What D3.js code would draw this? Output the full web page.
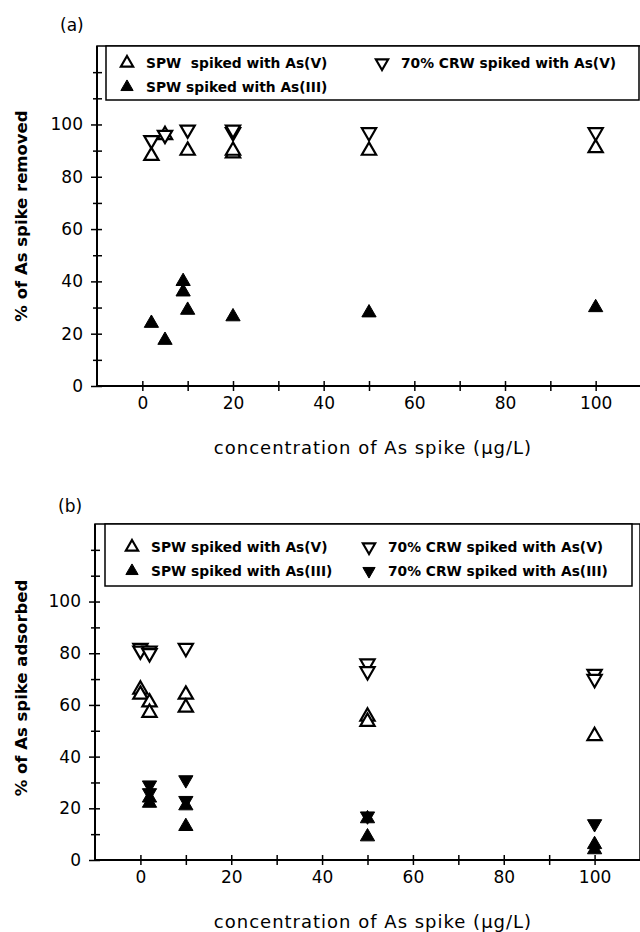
<!DOCTYPE html>
<html>
<head>
<meta charset="utf-8">
<script src="https://cdn.jsdelivr.net/npm/d3@7"></script>
<style>
  body { margin: 0; background: #fff; }
  svg { display: block; }
  text { font-family: "DejaVu Sans", sans-serif; fill: #000; }
</style>
</head>
<body>
<svg id="chart" width="640" height="932"></svg>
<script>
// tick values shared by both panels
var xTickValues = d3.range(0, 101, 10),
    xTickLabels = [0, 20, 40, 60, 80, 100],
    yTickValues = d3.range(0, 121, 10),
    yTickLabels = [0, 20, 40, 60, 80, 100];

// (a) % of As spike removed, [concentration, %]
var removedSpwV   = [[2, 88], [5, 96], [10, 90], [20, 89], [20, 90], [50, 90], [100, 91]];
var removedCrwV   = [[2, 94], [5, 96], [10, 98], [20, 97], [20, 98], [50, 97], [100, 97]];
var removedSpwIII = [[2, 24], [5, 17.5], [9, 40], [9, 36], [10, 29], [20, 26.5], [50, 28], [100, 30]];

// (b) % of As spike adsorbed, [concentration, %]
var adsorbedSpwV   = [[0, 66], [0, 64], [2, 61], [2, 57], [10, 64], [10, 59], [50, 55.5], [50, 53.5], [100, 48]];
var adsorbedCrwV   = [[0, 82], [0, 81], [2, 81], [2, 80], [10, 82], [50, 76], [50, 73], [100, 72], [100, 70]];
var adsorbedSpwIII = [[2, 22], [2, 24], [10, 21], [10, 13], [50, 16], [50, 9], [100, 6], [100, 4]];
var adsorbedCrwIII = [[2, 29], [2, 26], [10, 31], [10, 23], [50, 17], [100, 14]];

var svg = d3.select("#chart");

// triangle marker: up or down, open or filled
function marker(g, kind, size) {
  var p = g.append("path")
      .attr("d", d3.symbol().type(d3.symbolTriangle).size(size)())
      .attr("stroke", "#000")
      .attr("stroke-width", kind.open ? 2.2 : 1)
      .attr("stroke-linejoin", "miter")
      .attr("fill", kind.open ? "#fff" : "#000");
  if (kind.down) p.attr("transform", "rotate(180)");
  return p;
}

var openUp = {open: true, down: false},
    openDown = {open: true, down: true},
    fillUp = {open: false, down: false},
    fillDown = {open: false, down: true};

function drawPanel(opt) {
  var x = d3.scaleLinear().domain([-10, 110]).range(opt.xRange),
      y = d3.scaleLinear().domain([0, 130]).range(opt.yRange),
      g = svg.append("g");

  // plot frame
  g.append("rect")
      .attr("x", x(-10)).attr("y", y(130))
      .attr("width", x(110) - x(-10)).attr("height", y(0) - y(130))
      .attr("fill", "none").attr("stroke", "#000").attr("stroke-width", 1.5);

  // legend box
  g.append("rect")
      .attr("x", opt.legend.x0).attr("y", y(130))
      .attr("width", opt.legend.x1 - opt.legend.x0).attr("height", opt.legend.y1 - y(130))
      .attr("fill", "#fff").attr("stroke", "#000").attr("stroke-width", 1.5);

  var lg = g.selectAll(".legend")
      .data(opt.legend.items)
      .enter().append("g")
        .attr("class", "legend")
        .attr("transform", function(d) {
          return "translate(" + opt.legend.cols[d.col] + "," + opt.legend.rows[d.row] + ")";
        });
  lg.each(function(d) { marker(d3.select(this), d.kind, 65); });
  lg.append("text")
      .attr("x", opt.legend.gap)
      .attr("dy", "0.36em")
      .style("font-size", "13.8px")
      .style("font-weight", "bold")
      .style("white-space", "pre")
      .text(function(d) { return d.label; });

  // data
  opt.series.forEach(function(s) {
    g.append("g").selectAll("g")
      .data(s.data)
      .enter().append("g")
        .attr("transform", function(d) { return "translate(" + x(d[0]) + "," + y(d[1]) + ")"; })
        .each(function() { marker(d3.select(this), s.kind, 88); });
  });

  // x axis
  var xAxis = g.append("g")
      .attr("transform", "translate(0," + y(0) + ")")
      .call(d3.axisBottom(x).tickValues(xTickValues).tickSizeInner(5).tickSizeOuter(0).tickPadding(6)
        .tickFormat(function(d) { return xTickLabels.indexOf(d) >= 0 ? d : ""; }));
  xAxis.select(".domain").attr("stroke-width", 2).attr("d", "M" + x(-10) + ",0H" + x(110));
  xAxis.selectAll(".tick line").attr("y1", -5).attr("stroke-width", 1.5);
  xAxis.selectAll("text").style("font-size", "17px").style("font-family", "DejaVu Sans");

  // y axis
  var yAxis = g.append("g")
      .attr("transform", "translate(" + x(-10) + ",0)")
      .call(d3.axisLeft(y).tickValues(yTickValues).tickSizeInner(6).tickSizeOuter(0).tickPadding(8)
        .tickFormat(function(d) { return yTickLabels.indexOf(d) >= 0 ? d : ""; }));
  yAxis.select(".domain").attr("stroke-width", 2).attr("d", "M0," + y(0) + "V" + y(130));
  yAxis.selectAll(".tick line")
      .attr("x1", 5)
      .attr("x2", function(d) { return yTickLabels.indexOf(d) >= 0 ? -6 : -4; })
      .attr("stroke-width", 1.5);
  yAxis.selectAll("text").style("font-size", "17px").style("font-family", "DejaVu Sans");

  // titles
  g.append("text")
      .attr("x", opt.tag[0]).attr("y", opt.tag[1])
      .attr("dy", "0.36em")
      .style("font-size", "17px")
      .text(opt.tagText);

  g.append("text")
      .attr("transform", "translate(" + opt.yTitle[0] + "," + opt.yTitle[1] + ") rotate(-90)")
      .attr("text-anchor", "middle")
      .attr("dy", "0.36em")
      .style("font-size", "16.5px")
      .style("font-weight", "bold")
      .text(opt.yTitleText);

  g.append("text")
      .attr("x", opt.xTitle[0]).attr("y", opt.xTitle[1])
      .attr("text-anchor", "middle")
      .attr("dy", "0.36em")
      .style("font-size", "18px")
      .style("letter-spacing", "1px")
      .text("concentration of As spike (\u03bcg/L)");
}

drawPanel({
  xRange: [97, 641],
  yRange: [386, 46],
  tag: [60, 25], tagText: "(a)",
  yTitle: [21, 216], yTitleText: "% of As spike removed",
  xTitle: [373, 448],
  legend: {
    x0: 106, x1: 639, y1: 100, gap: 19,
    cols: [127, 382], rows: [63, 87],
    items: [
      {kind: openUp, label: "SPW  spiked with As(V)", col: 0, row: 0},
      {kind: openDown, label: "70% CRW spiked with As(V)", col: 1, row: 0},
      {kind: fillUp, label: "SPW spiked with As(III)", col: 0, row: 1}
    ]
  },
  series: [
    {kind: openUp, data: removedSpwV},
    {kind: openDown, data: removedCrwV},
    {kind: fillUp, data: removedSpwIII}
  ]
});

drawPanel({
  xRange: [95, 640],
  yRange: [860, 524],
  tag: [58, 506], tagText: "(b)",
  yTitle: [21, 688], yTitleText: "% of As spike adsorbed",
  xTitle: [373, 922],
  legend: {
    x0: 105, x1: 632, y1: 586, gap: 19,
    cols: [132, 369], rows: [547, 571],
    items: [
      {kind: openUp, label: "SPW spiked with As(V)", col: 0, row: 0},
      {kind: openDown, label: "70% CRW spiked with As(V)", col: 1, row: 0},
      {kind: fillUp, label: "SPW spiked with As(III)", col: 0, row: 1},
      {kind: fillDown, label: "70% CRW spiked with As(III)", col: 1, row: 1}
    ]
  },
  series: [
    {kind: openUp, data: adsorbedSpwV},
    {kind: openDown, data: adsorbedCrwV},
    {kind: fillUp, data: adsorbedSpwIII},
    {kind: fillDown, data: adsorbedCrwIII}
  ]
});
</script>
</body>
</html>
